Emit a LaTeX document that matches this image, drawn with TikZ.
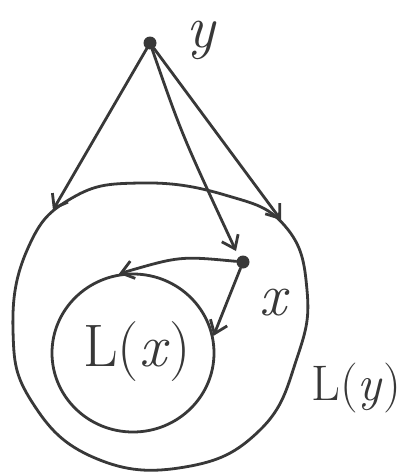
\documentclass[tikz,border=0pt]{standalone}
\usepackage{fontspec}
\usetikzlibrary{arrows.meta,shapes.geometric}
\definecolor{inkc}{HTML}{383838}
\begin{document}
\begin{tikzpicture}[x=1pt,y=-1pt,
  ink/.style={draw=inkc, line width=2.8pt, line cap=round, line join=round},
  arr/.style={ink, -{Straight Barb[length=12pt,width=18pt,line width=2.8pt]}},
  dot/.style={circle, fill=inkc, inner sep=0pt, minimum size=13pt},
  lbl/.style={text=inkc, inner sep=0pt}]
\useasboundingbox[fill=white] (0,0) rectangle (402,474);
% outer region L(y)
\draw[ink] plot[smooth cycle, tension=0.75] coordinates {
  (140,183) (225,195) (285,226) (307,290) (297,358) (260,430)
  (185,467) (95,458) (32,402) (13,330) (28,248) (72,198)};
% inner region L(x)
\node[ink, ellipse, minimum width=162pt, minimum height=158pt] (inner) at (133,353) {};
% points
\node[dot] (y) at (150,43) {};
\node[dot] (x) at (243,262) {};
\coordinate (tl) at (53,210);
\coordinate (tr) at (281,220);
\coordinate (tx) at (236,251);
% labels
\node[lbl, font=\fontsize{60}{60}\selectfont\itshape] (ylab) at (201,40) {y};
\node[lbl, font=\fontsize{60}{60}\selectfont\itshape] (xlab) at (273,303) {x};
\node[lbl, font=\fontsize{60}{60}\selectfont] (Lx) at (137,352) {L(\textit{x}\/)};
\node[lbl, font=\fontsize{50}{50}\selectfont] (Ly) at (356,388) {L(\textit{y}\/)};
% arrows
\draw[arr] (y) -- (tl);
\draw[arr] (y) -- (tr);
\draw[arr] (y) .. controls (182,135) .. (tx);
\draw[arr] (x) .. controls (180,256) .. (inner.100);
\draw[arr] (x) -- (inner.12);
\end{tikzpicture}
\end{document}
